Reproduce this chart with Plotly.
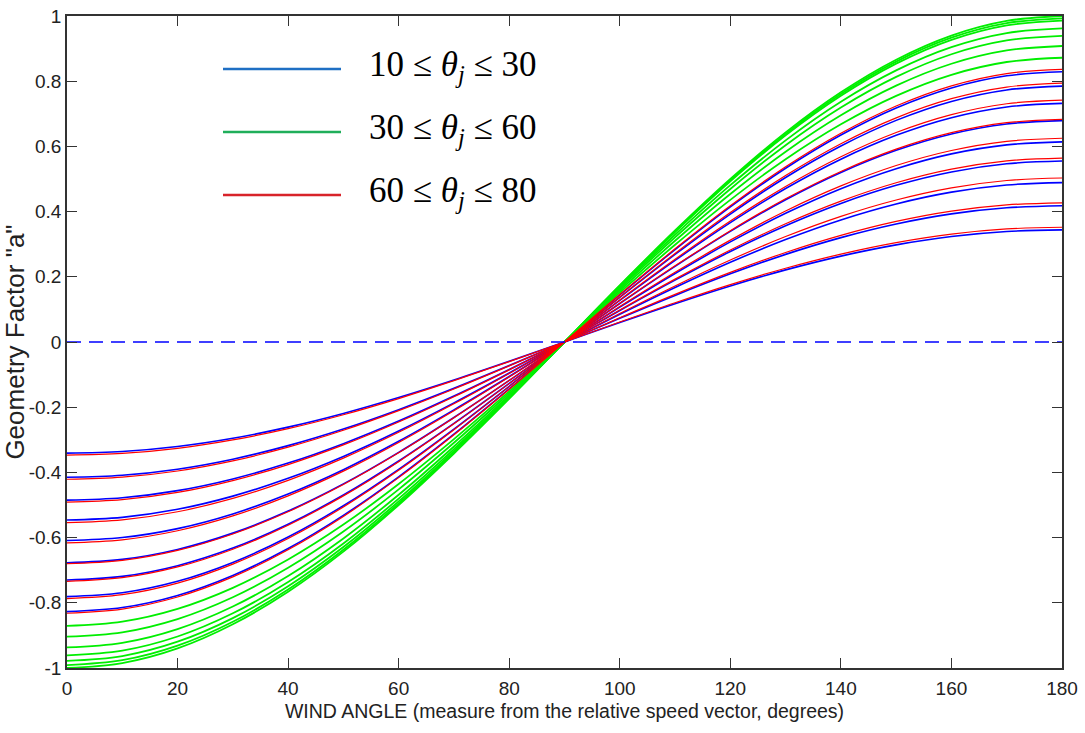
import plotly.graph_objects as go

# ---- data ----
wind_angle = [0, 10, 20, 30, 40, 50, 60, 70, 80, 90, 100, 110, 120, 130, 140, 150, 160, 170, 180]
# normalised curve profile (outermost curve)
profile = [-1.0, -0.985, -0.94, -0.866, -0.766, -0.643, -0.5, -0.342, -0.174, 0.0,
           0.174, 0.342, 0.5, 0.643, 0.766, 0.866, 0.94, 0.985, 1.0]

# magnitude of each curve at 0 deg (left) and at 180 deg (right)
blue_left = [0.341, 0.415, 0.485, 0.546, 0.609, 0.677, 0.730, 0.781, 0.827]
blue_right = [0.344, 0.418, 0.489, 0.555, 0.614, 0.679, 0.732, 0.785, 0.829]
green_left = [0.871, 0.904, 0.937, 0.961, 0.978, 0.991, 1.0]
green_right = [0.872, 0.908, 0.939, 0.962, 0.986, 0.993, 1.0]
red_left = [0.347, 0.421, 0.491, 0.554, 0.616, 0.680, 0.734, 0.787, 0.832]
red_right = [0.352, 0.427, 0.503, 0.564, 0.625, 0.683, 0.742, 0.794, 0.836]

y_ticks = [-1, -0.8, -0.6, -0.4, -0.2, 0, 0.2, 0.4, 0.6, 0.8, 1]
y_tick_text = ["-1", "-0.8", "-0.6", "-0.4", "-0.2", "0", "0.2", "0.4", "0.6", "0.8", "1"]
x_ticks = [0, 20, 40, 60, 80, 100, 120, 140, 160, 180]

legend_labels = ["10 ≤ <i>θ</i><sub><i>j</i></sub> ≤ 30",
                 "30 ≤ <i>θ</i><sub><i>j</i></sub> ≤ 60",
                 "60 ≤ <i>θ</i><sub><i>j</i></sub> ≤ 80"]
legend_colors = ["#1f6fc4", "#1fae5a", "#d8232a"]

SANS = "Liberation Sans, Arial, sans-serif"

fig = go.Figure()


def curve(aL, aR):
    return [p * (aL if p < 0 else aR) for p in profile]


for aL, aR in zip(blue_left, blue_right):
    fig.add_trace(go.Scatter(x=wind_angle, y=curve(aL, aR), mode="lines",
                             line=dict(color="#0000ff", width=1.6, shape="spline"),
                             showlegend=False, hoverinfo="skip"))
for aL, aR in zip(green_left, green_right):
    fig.add_trace(go.Scatter(x=wind_angle, y=curve(aL, aR), mode="lines",
                             line=dict(color="#00ee00", width=1.8, shape="spline"),
                             showlegend=False, hoverinfo="skip"))
for aL, aR in zip(red_left, red_right):
    fig.add_trace(go.Scatter(x=wind_angle, y=curve(aL, aR), mode="lines",
                             line=dict(color="#ff0000", width=1.2, shape="spline"),
                             showlegend=False, hoverinfo="skip"))

# dashed zero line
fig.add_trace(go.Scatter(x=[wind_angle[0], wind_angle[-1]], y=[0, 0], mode="lines",
                         line=dict(color="#0000ff", width=1.5, dash="14px,8px"),
                         showlegend=False, hoverinfo="skip"))

# manual legend (pasted image in the original)
line_y = [69, 132, 195]
for i, (lab, col) in enumerate(zip(legend_labels, legend_colors)):
    yp = 1 - (line_y[i] - 16) / 652
    fig.add_shape(type="line", xref="paper", yref="paper",
                  x0=(223 - 67) / 995, x1=(341 - 67) / 995, y0=yp, y1=yp,
                  line=dict(color=col, width=2.5))
    fig.add_annotation(xref="paper", yref="paper", x=(367 - 67) / 995, y=yp + 3 / 652,
                       xanchor="left", yanchor="middle", text=lab, showarrow=False,
                       font=dict(family="Liberation Serif", size=35, color="black"))

fig.update_layout(
    width=1085, height=733,
    margin=dict(l=67, r=23, t=16, b=65, autoexpand=False),
    paper_bgcolor="white", plot_bgcolor="white",
    font=dict(family=SANS, color="#222222"),
    xaxis=dict(range=[0, 180], tickvals=x_ticks, ticks="inside", ticklen=10,
               tickcolor="#333333", showline=True, linecolor="#333333", linewidth=1.5,
               mirror="allticks", showgrid=False, zeroline=False, automargin=False,
               tickfont=dict(size=19), ticklabelstandoff=2,
               title=dict(text="WIND ANGLE (measure from the relative speed vector, degrees)",
                          font=dict(size=19.5), standoff=7)),
    yaxis=dict(range=[-1, 1], tickvals=y_ticks, ticktext=y_tick_text, ticks="inside",
               ticklen=10, tickcolor="#333333", showline=True, linecolor="#333333",
               linewidth=1.5, mirror="allticks", showgrid=False, zeroline=False,
               automargin=False, tickfont=dict(size=19),
               title=dict(text='Geometry Factor "a"', font=dict(size=26), standoff=0)),
)

fig.write_html("out.html", config={"displayModeBar": False},
               post_script="document.body.style.margin='0px';")
